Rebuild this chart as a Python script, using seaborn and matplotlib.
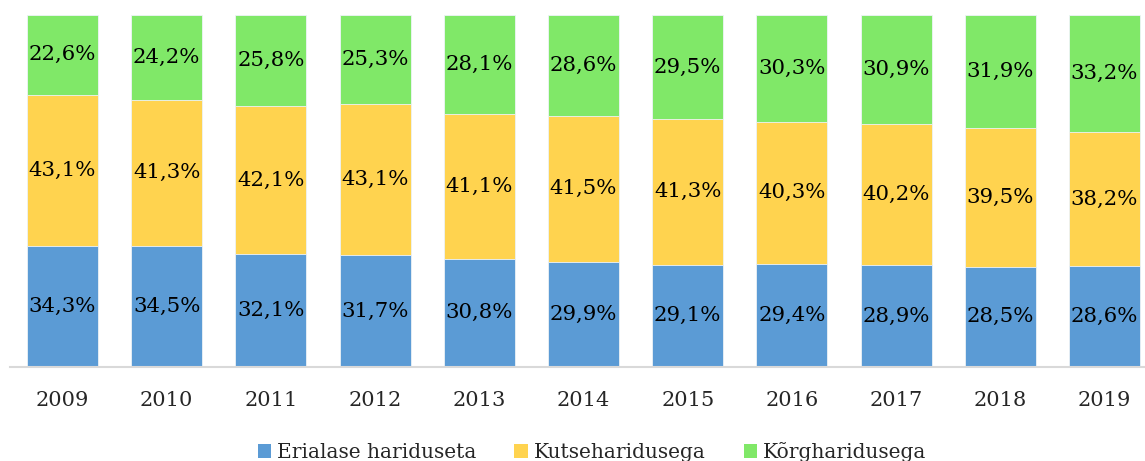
import pandas as pd
import matplotlib.pyplot as plt
import seaborn as sns
from matplotlib.patches import Patch

years = ['2009', '2010', '2011', '2012', '2013', '2014', '2015', '2016', '2017', '2018', '2019']
erialase = [34.3, 34.5, 32.1, 31.7, 30.8, 29.9, 29.1, 29.4, 28.9, 28.5, 28.6]
kutse = [43.1, 41.3, 42.1, 43.1, 41.1, 41.5, 41.3, 40.3, 40.2, 39.5, 38.2]
korg = [22.6, 24.2, 25.8, 25.3, 28.1, 28.6, 29.5, 30.3, 30.9, 31.9, 33.2]
series_names = ['Erialase hariduseta', 'Kutseharidusega', 'Kõrgharidusega']
colors = ['#5B9BD5', '#FFD34F', '#80E868']

df = pd.DataFrame({'year': years, 'a': erialase, 'b': kutse, 'c': korg})
df['cum1'] = df['a']
df['cum2'] = df['a'] + df['b']
df['cum3'] = df['cum2'] + df['c']

sns.set_style('white')
plt.rcParams['font.family'] = ['DejaVu Serif']

fig = plt.figure(figsize=(11.45, 4.61), dpi=100)
ax = fig.add_axes([10.4 / 1145, 94 / 461, 1146.2 / 1145, 352 / 461])

# stacked look: draw cumulative totals from the top layer down
for col, color in zip(['cum3', 'cum2', 'cum1'], colors[::-1]):
    sns.barplot(data=df, x='year', y=col, color=color, width=0.68,
                saturation=1, edgecolor='#EEF3F8', linewidth=0.6, ax=ax)

for i, row in df.iterrows():
    segs = [(0, row['cum1'], row['a']), (row['cum1'], row['cum2'], row['b']),
            (row['cum2'], row['cum3'], row['c'])]
    for lo, hi, v in segs:
        ax.text(i, (lo + hi) / 2, f'{v:.1f}%'.replace('.', ','),
                ha='center', va='center', fontsize=15.3, color='black')

ax.set_ylim(0, 100)
ax.set_xlim(-0.5, len(years) - 0.5)
ax.set_xlabel('')
ax.set_ylabel('')
ax.set_yticks([])
ax.tick_params(axis='x', length=0, labelsize=15, pad=17)
for s in ['top', 'right', 'left']:
    ax.spines[s].set_visible(False)
ax.spines['bottom'].set_color('#D9D9D9')
ax.spines['bottom'].set_linewidth(1.5)

handles = [Patch(facecolor=c, edgecolor='none') for c in colors]
fig.legend(handles, series_names, loc='center', bbox_to_anchor=(592 / 1145, 9 / 461),
           ncol=3, frameon=False, fontsize=14.5, handlelength=0.65, handleheight=0.65,
           handletextpad=0.3, columnspacing=1.9)

fig.savefig('out.png', dpi=100)
